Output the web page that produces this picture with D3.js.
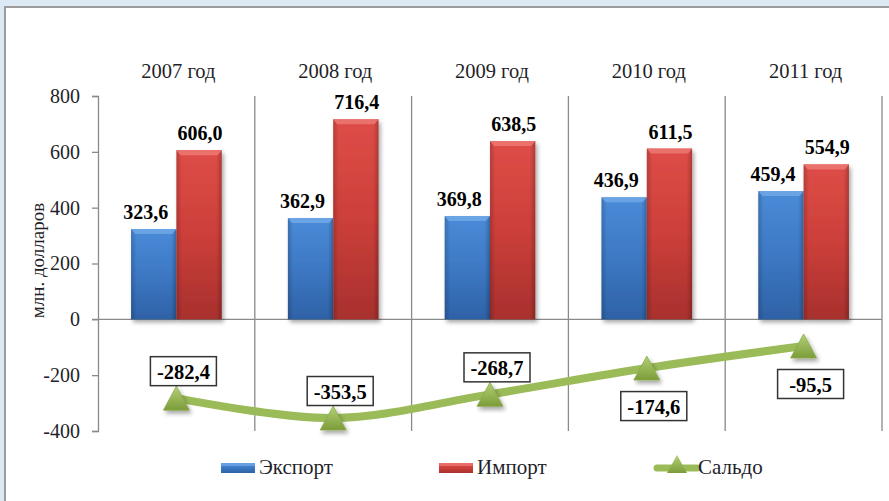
<!DOCTYPE html>
<html><head><meta charset="utf-8">
<script src="https://cdn.jsdelivr.net/npm/d3@7"></script>
<style>
html,body{margin:0;padding:0;background:#dde8f5;}
svg{display:block;}
</style></head>
<body>
<svg id="chart" width="889" height="501"></svg>
<script>
// ---- data ----
const years = ["2007 год","2008 год","2009 год","2010 год","2011 год"];
const exportVals = [323.6, 362.9, 369.8, 436.9, 459.4];
const importVals = [606.0, 716.4, 638.5, 611.5, 554.9];
const saldoVals = [-282.4, -353.5, -268.7, -174.6, -95.5];
const saldoLabelSide = ["above","above","above","below","below"];
const yTicks = [-400, -200, 0, 200, 400, 600, 800];
const seriesNames = ["Экспорт","Импорт","Сальдо"];
const yTitle = "млн. долларов";

const locale = d3.formatLocale({decimal:",", thousands:" ", grouping:[3], currency:["",""], minus:"-"});
const fmt1 = locale.format(".1f");
const fmt0 = locale.format("d");

const svg = d3.select("#chart");
const W = 889, H = 501;
const serif = "Liberation Serif";
const textCol = "#1f1f2a";

// defs
const defs = svg.append("defs");
function vgrad(id, stops){
  const g = defs.append("linearGradient").attr("id", id).attr("x1",0).attr("y1",0).attr("x2",0).attr("y2",1);
  stops.forEach(s => g.append("stop").attr("offset", s[0]).attr("stop-color", s[1]));
}
function hgrad(id, stops){
  const g = defs.append("linearGradient").attr("id", id).attr("x1",0).attr("y1",0).attr("x2",1).attr("y2",0);
  stops.forEach(s => g.append("stop").attr("offset", s[0]).attr("stop-color", s[1]).attr("stop-opacity", s[2]));
}
vgrad("gBlue", [[0,"#4a8bd8"],[0.5,"#3d78c4"],[1,"#2e62a6"]]);
vgrad("gRed", [[0,"#de4d47"],[0.5,"#cc3f3a"],[1,"#a8302d"]]);
vgrad("gGreen", [[0,"#b3d076"],[1,"#7c9c3a"]]);
hgrad("gSide", [[0,"#000",0.18],[0.12,"#000",0],[0.88,"#000",0],[1,"#000",0.22]]);
const f = defs.append("filter").attr("id","shadow").attr("x","-20%").attr("y","-20%").attr("width","150%").attr("height","150%");
f.append("feDropShadow").attr("dx",2).attr("dy",3).attr("stdDeviation",2).attr("flood-color","#000").attr("flood-opacity",0.35);

// panel background
svg.append("rect").attr("x",0).attr("y",0).attr("width",W).attr("height",H).attr("fill","#dde8f5");
svg.append("rect").attr("x",5).attr("y",7).attr("width",W).attr("height",H).attr("fill","#ffffff")
  .attr("stroke","#9c9c9c").attr("stroke-width",2);

// scales
const x = d3.scaleBand().domain(years).range([98, 882]).paddingInner(0).paddingOuter(0);
const xs = d3.scaleBand().domain(["export","import"]).range([0, x.bandwidth()]).paddingInner(0).paddingOuter(0.73);
const y = d3.scaleLinear().domain([-400, 800]).range([431, 96]);

// category separators
svg.append("g").selectAll("line").data(years).join("line")
  .attr("x1", d => x(d) + x.bandwidth()).attr("x2", d => x(d) + x.bandwidth())
  .attr("y1", y(800)).attr("y2", y(-400))
  .attr("stroke","#8a8a8a").attr("stroke-width",1.3);

// zero line
svg.append("line").attr("x1", 92).attr("x2", x.range()[1]).attr("y1", y(0)).attr("y2", y(0))
  .attr("stroke","#8a8a8a").attr("stroke-width",1.3);

// y axis
const yAxis = d3.axisLeft(y).tickValues(yTicks).tickSize(6).tickPadding(12).tickFormat(fmt0);
const ga = svg.append("g").attr("transform","translate(98,0)").call(yAxis);
ga.attr("font-family", serif);
ga.select(".domain").attr("stroke","#8a8a8a").attr("stroke-width",1.3);
ga.selectAll(".tick line").attr("stroke","#8a8a8a").attr("stroke-width",1.3);
ga.selectAll(".tick text").attr("font-family", serif).attr("font-size", 20).attr("fill", textCol);

// y title
svg.append("text").attr("transform", `translate(37,${(y(800)+y(-400))/2 - 3}) rotate(-90)`)
  .attr("text-anchor","middle").attr("dominant-baseline","central")
  .attr("font-family", serif).attr("font-size", 19).attr("fill", textCol).text(yTitle);

// year labels
svg.append("g").selectAll("text").data(years).join("text")
  .attr("x", d => x(d) + x.bandwidth()/2 + 2).attr("y", 78)
  .attr("text-anchor","middle").attr("font-family", serif).attr("font-size", 20.5).attr("fill", textCol)
  .text(d => d);

// bars
const barData = [];
years.forEach((yr,i) => {
  barData.push({yr, key:"export", v: exportVals[i]});
  barData.push({yr, key:"import", v: importVals[i]});
});
const gb = svg.append("g");
const bars = gb.selectAll("g.bar").data(barData).join("g").attr("class","bar");
bars.append("rect")
  .attr("x", d => x(d.yr) + xs(d.key)).attr("width", xs.bandwidth())
  .attr("y", d => y(d.v)).attr("height", d => y(0) - y(d.v))
  .attr("fill", d => d.key === "export" ? "url(#gBlue)" : "url(#gRed)")
  .attr("filter","url(#shadow)");
bars.append("rect")
  .attr("x", d => x(d.yr) + xs(d.key)).attr("width", xs.bandwidth())
  .attr("y", d => y(d.v)).attr("height", d => y(0) - y(d.v))
  .attr("fill", "url(#gSide)");
bars.append("path")
  .attr("d", d => {
    const x0 = x(d.yr) + xs(d.key), x1 = x0 + xs.bandwidth(), t = y(d.v);
    return `M${x0},${t}L${x1},${t}L${x1-4},${t+5}L${x0+4},${t+5}Z`;
  })
  .attr("fill", d => d.key === "export" ? "#6ea6e6" : "#ec7570").attr("opacity",0.9);

// bar value labels
svg.append("g").selectAll("text").data(barData).join("text")
  .attr("x", d => x(d.yr) + xs(d.key) + xs.bandwidth()/2 + (d.key === "export" ? -8 : 1))
  .attr("y", d => y(d.v) - 10)
  .attr("text-anchor","middle").attr("font-family", serif).attr("font-weight","bold")
  .attr("font-size", 20).attr("fill","#000")
  .text(d => fmt1(d.v));

// saldo line
const pts = years.map((yr,i) => [x(yr) + x.bandwidth()/2, y(saldoVals[i])]);
const line = d3.line().curve(d3.curveCatmullRom.alpha(0));
svg.append("path").attr("d", line(pts)).attr("fill","none")
  .attr("stroke","#9bbb59").attr("stroke-width",8).attr("stroke-linecap","round");

// triangles
const tri = (cx, cy, w, h) => `M${cx},${cy-h/2}L${cx+w/2},${cy+h/2}L${cx-w/2},${cy+h/2}Z`;
svg.append("g").selectAll("path").data(pts).join("path")
  .attr("d", p => tri(p[0], p[1], 26, 24))
  .attr("fill","url(#gGreen)").attr("stroke","#8aab4a").attr("stroke-width",0.8)
  .attr("filter","url(#shadow)");

// saldo labels
const gl = svg.append("g").selectAll("g").data(saldoVals).join("g")
  .attr("transform", (v,i) => {
    const cx = pts[i][0] + 7;
    const cy = pts[i][1] + (saldoLabelSide[i] === "above" ? -27 : 38);
    return `translate(${cx},${cy})`;
  });
gl.append("rect").attr("x",-33).attr("y",-14.5).attr("width",66).attr("height",29)
  .attr("fill","#fff").attr("stroke","#333").attr("stroke-width",1.5);
gl.append("text").attr("text-anchor","middle").attr("dominant-baseline","central").attr("dy",1)
  .attr("font-family", serif).attr("font-weight","bold").attr("font-size",20.5).attr("fill","#000")
  .text(v => fmt1(v));

// legend
const legX = i => 221 + 218 * i;
const legY = 468;
const lg = svg.append("g");
[0,1].forEach(i => {
  lg.append("rect").attr("x", legX(i)).attr("y", legY - 5).attr("width",34).attr("height",10)
    .attr("fill", i === 0 ? "url(#gBlue)" : "url(#gRed)");
  lg.append("rect").attr("x", legX(i)).attr("y", legY - 5).attr("width",34).attr("height",3)
    .attr("fill", i === 0 ? "#6ea6e6" : "#ec7570").attr("opacity",0.8);
});
lg.append("line").attr("x1", legX(2)).attr("x2", legX(2) + 40).attr("y1", legY).attr("y2", legY)
  .attr("stroke","#9bbb59").attr("stroke-width",7).attr("stroke-linecap","round");
lg.append("path").attr("d", tri(legX(2) + 20, legY - 4, 20, 18)).attr("fill","url(#gGreen)");
seriesNames.forEach((n,i) => {
  lg.append("text").attr("x", legX(i) + (i < 2 ? 38 : 41)).attr("y", legY + 6)
    .attr("font-family", serif).attr("font-size", 21).attr("fill", textCol).text(n);
});
</script>
</body></html>
